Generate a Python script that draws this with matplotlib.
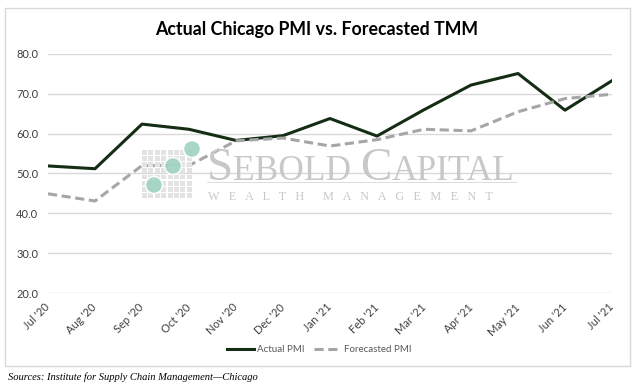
import matplotlib
matplotlib.use("Agg")
import matplotlib.pyplot as plt
from matplotlib.patches import Rectangle, Ellipse
import numpy as np

# Data
months = ["Jul '20", "Aug '20", "Sep '20", "Oct '20", "Nov '20", "Dec '20", "Jan '21",
          "Feb '21", "Mar '21", "Apr '21", "May '21", "Jun '21", "Jul '21"]
actual_pmi = [51.9, 51.2, 62.4, 61.1, 58.3, 59.5, 63.8, 59.4, 66.0, 72.2, 75.1, 65.9, 73.3]
forecast_pmi = [44.9, 43.1, 52.0, 52.0, 58.2, 58.9, 56.9, 58.5, 61.1, 60.7, 65.5, 68.8, 69.9]
y_ticks = [20, 30, 40, 50, 60, 70, 80]

plt.rcParams['font.family'] = ['Lato', 'DejaVu Sans']

W, H = 635, 391
fig = plt.figure(figsize=(W / 100, H / 100), dpi=100)
renderer = fig.canvas.get_renderer()

# outer chart frame
fig.patches.append(Rectangle((5 / W, 1 - 366 / H), 625 / W, 358 / H, transform=fig.transFigure,
                             fill=False, edgecolor="#d9d9d9", linewidth=1))

ax = fig.add_axes([48 / W, 1 - 293 / H, 564 / W, 239 / H])
x = np.arange(len(months))

# watermark logo: grid of squares and circles
for i in range(8):
    for j in range(8):
        fig.patches.append(Rectangle(((142 + i * 6.4) / W, 1 - (150 + j * 6.1 + 5) / H), 5.0 / W, 4.9 / H,
                                     transform=fig.transFigure, facecolor="#e3e3e3", edgecolor="none", zorder=0))
for cx, cy in [(154, 185), (173, 166), (192, 149)]:
    fig.patches.append(Ellipse((cx / W, 1 - cy / H), 17 / W, 17 / H, transform=fig.transFigure,
                               facecolor="#9fd3c0", edgecolor="white", linewidth=1.2, zorder=1, alpha=0.9))

# small-caps watermark name
xpos = 207
for piece, size in [("S", 34), ("EBOLD ", 25.5), ("C", 34), ("APITAL", 25.5)]:
    t = fig.text(xpos / W, 1 - 180 / H, piece, fontsize=size, family="Liberation Serif",
                 color="#c8c8c8", ha="left", va="baseline", zorder=0)
    xpos += t.get_window_extent(renderer).width
fig.patches.append(Rectangle((207 / W, 1 - 183 / H), 310 / W, 0.6 / H, transform=fig.transFigure,
                             facecolor="#dddddd", edgecolor="none", zorder=0))
fig.text(208 / W, 1 - 200 / H, "W   E   A   L   T   H      M   A   N   A   G   E   M   E   N   T", fontsize=8.8,
         family="Liberation Serif", color="#c8c8c8", ha="left", va="baseline", zorder=0)

ax.plot(x, actual_pmi, color="#142d14", linewidth=2.2, label="Actual PMI", zorder=3)
ax.plot(x, forecast_pmi, color="#a6a6a6", linewidth=2.2, linestyle=(0, (3, 1.5)),
        label="Forecasted PMI", zorder=3)

ax.set_xlim(0, len(months) - 1)
ax.set_ylim(20, 80)
ax.set_yticks(y_ticks)
ax.set_yticklabels([f"{v:.1f}" for v in y_ticks])
ax.set_xticks(x)
ax.set_xticklabels(months, rotation=45, ha="right", va="center", rotation_mode="anchor")
ax.grid(axis="y", color="#d9d9d9", linewidth=1)
ax.set_axisbelow(True)
for s in ax.spines.values():
    s.set_visible(False)
ax.tick_params(length=0, labelsize=8, colors="#404040")
ax.tick_params(axis="x", pad=9)
ax.tick_params(axis="y", pad=7)
ax.patch.set_alpha(0)

fig.text(317 / W, 1 - 30 / H, "Actual Chicago PMI vs. Forecasted TMM", fontsize=12.8, fontweight="bold",
         ha="center", va="center", color="#000000")

ax.legend(loc="center", bbox_to_anchor=((319 - 48) / 564, (293 - 350) / 239), ncol=2, frameon=False,
          fontsize=7, handlelength=2.8, handletextpad=0.3, columnspacing=1.0, labelcolor="#595959")

fig.text(8 / W, 1 - 377 / H, "Sources: Institute for Supply Chain Management\u2014Chicago", fontsize=7.6,
         family="Liberation Serif", style="italic", ha="left", va="center", color="#000000")

fig.savefig("out.png", dpi=100)
